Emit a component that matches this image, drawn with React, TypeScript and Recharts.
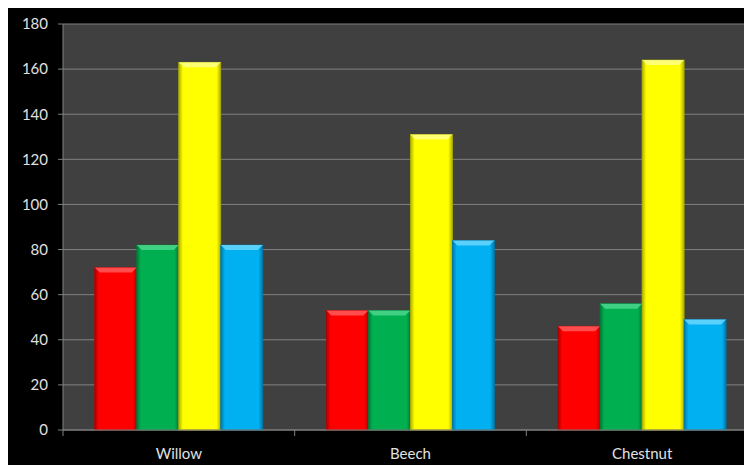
import React from "react";
import { BarChart, Bar, XAxis, YAxis, CartesianGrid } from "recharts";

const categories = ["Willow", "Beech", "Chestnut"];
const seriesA = [72, 53, 46];
const seriesB = [82, 53, 56];
const seriesC = [163, 131, 164];
const seriesD = [82, 84, 49];
const yTicks = [0, 20, 40, 60, 80, 100, 120, 140, 160, 180];

const colors = ["#FF0000", "#00B050", "#FFFF00", "#00B0F0"];
const darks = ["#B00000", "#007A38", "#B0B000", "#0078A8"];
const lights = ["#FF6060", "#50D890", "#FFFF90", "#70D8FF"];

const data = categories.map((name, i) => ({
  name,
  a: seriesA[i],
  b: seriesB[i],
  c: seriesC[i],
  d: seriesD[i],
}));

const makeShape = (idx: number) => (props: any) => {
  const { x, y, width, height } = props;
  if (!height || height <= 0) return null;
  const b = Math.min(5, height / 2);
  return (
    <g>
      <rect x={x} y={y} width={width} height={height} fill={`url(#grad${idx})`} stroke={darks[idx]} strokeWidth={0.8} />
      <polygon
        points={`${x},${y} ${x + width},${y} ${x + width - b},${y + b} ${x + b},${y + b}`}
        fill={lights[idx]}
        opacity={0.8}
      />
    </g>
  );
};

const XTick = (props: any) => {
  const { x, y, payload, width } = props;
  const band = width / categories.length;
  const left = x - band / 2;
  return (
    <g>
      <line x1={left} y1={y - 8} x2={left} y2={y - 2} stroke="#808080" strokeWidth={1} />
      <text x={x} y={y + 21} textAnchor="middle" fill="#E0E0E0" fontSize={15} fontFamily="Lato, 'Open Sans', sans-serif">
        {payload.value}
      </text>
    </g>
  );
};

export default function App() {
  return (
    <div style={{ width: 744, height: 457, overflow: "hidden", background: "#000000" }}>
      <BarChart
        width={750}
        height={457}
        data={data}
        margin={{ top: 16, right: 0, bottom: 0, left: 0 }}
        barCategoryGap="13.7%"
        barGap={0}
      >
        <defs>
          {colors.map((c, i) => (
            <linearGradient key={i} id={`grad${i}`} x1="0" y1="0" x2="1" y2="0">
              <stop offset="0%" stopColor={darks[i]} />
              <stop offset="10%" stopColor={c} />
              <stop offset="90%" stopColor={c} />
              <stop offset="100%" stopColor={darks[i]} />
            </linearGradient>
          ))}
        </defs>
        <CartesianGrid vertical={false} stroke="#808080" strokeWidth={1} fill="#404040" />
        <XAxis
          dataKey="name"
          height={35}
          axisLine={{ stroke: "#808080" }}
          tickLine={false}
          tick={<XTick />}
          interval={0}
        />
        <YAxis
          width={55}
          domain={[0, 180]}
          ticks={yTicks}
          interval={0}
          axisLine={{ stroke: "#808080" }}
          tickLine={{ stroke: "#808080" }}
          tickSize={5}
          tickMargin={10}
          tick={{ fill: "#E0E0E0", fontSize: 15, fontFamily: "Lato, 'Open Sans', sans-serif" }}
        />
        <Bar dataKey="a" fill={colors[0]} shape={makeShape(0)} isAnimationActive={false} />
        <Bar dataKey="b" fill={colors[1]} shape={makeShape(1)} isAnimationActive={false} />
        <Bar dataKey="c" fill={colors[2]} shape={makeShape(2)} isAnimationActive={false} />
        <Bar dataKey="d" fill={colors[3]} shape={makeShape(3)} isAnimationActive={false} />
      </BarChart>
    </div>
  );
}
